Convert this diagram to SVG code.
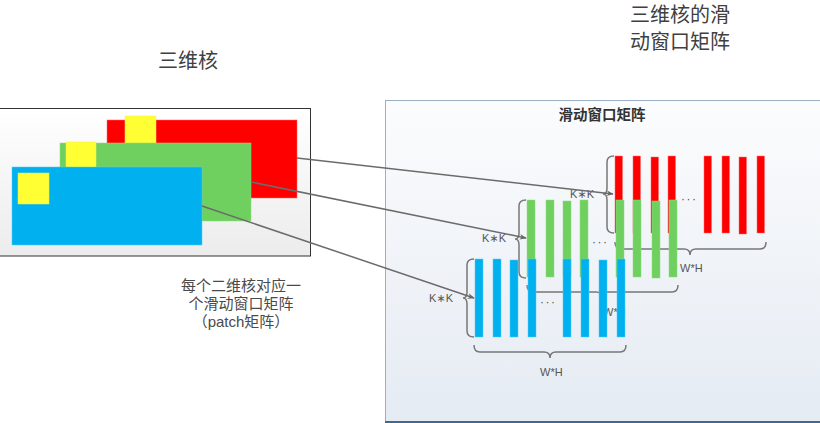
<svg xmlns="http://www.w3.org/2000/svg" width="820" height="423" viewBox="0 0 820 423">
<defs>
<linearGradient id="gl" x1="0" y1="0" x2="0" y2="1"><stop offset="0" stop-color="#ffffff"/><stop offset="1" stop-color="#ececec"/></linearGradient>
<linearGradient id="gr" x1="0" y1="0" x2="0" y2="1"><stop offset="0" stop-color="#fbfcfd"/><stop offset="1" stop-color="#e5ebf3"/></linearGradient>
<marker id="ar" viewBox="0 0 10 10" refX="9" refY="5" markerWidth="7" markerHeight="7" orient="auto" markerUnits="userSpaceOnUse"><path d="M0,1 L10,5 L0,9 L3,5 Z" fill="#666"/></marker>
<style>
.t{font-family:"Noto Sans CJK SC","Liberation Sans",sans-serif;fill:#404040}
.c{font-family:"Liberation Sans","Noto Sans CJK SC",sans-serif;fill:#4a4a4a;font-size:15px}
.s{font-family:"Liberation Sans","DejaVu Sans",sans-serif;font-size:11px;fill:#555}
.d{font-family:"Liberation Sans",sans-serif;font-size:12px;fill:#555;letter-spacing:1.5px}
.br{fill:none;stroke:#777;stroke-width:1.5}
.cn{fill:none;stroke:#6b6b6b;stroke-width:1.5}
.r{fill:#ff0000;stroke:#ff6b6b;stroke-width:0.5}
.g{fill:#6fd05f;stroke:#8fdc82;stroke-width:0.5}
.b{fill:#00b0ef;stroke:#55ccf5;stroke-width:0.5}
.y{fill:#ffff33;stroke:#f0f060;stroke-width:0.5}
</style>
</defs>
<text class="t" x="630" y="22" font-size="20">三维核的滑</text>
<text class="t" x="630" y="49" font-size="20">动窗口矩阵</text>
<text class="t" x="188" y="68" font-size="20" text-anchor="middle">三维核</text>
<g id="kernel">
<rect x="-1" y="108.5" width="311.5" height="147.5" fill="url(#gl)" stroke="#333" stroke-width="1"/>
<rect class="r" x="107" y="120" width="190" height="78"/>
<rect class="y" x="125" y="116" width="31" height="31"/>
<rect class="g" x="60" y="143" width="191" height="78"/>
<rect class="y" x="66" y="142" width="30" height="30"/>
<rect class="b" x="12" y="167" width="190" height="78"/>
<rect class="y" x="18" y="173" width="31" height="31"/>
</g>
<g id="caption">
<text class="c" x="241" y="291" text-anchor="middle">每个二维核对应一</text>
<text class="c" x="241" y="309" text-anchor="middle">个滑动窗口矩阵</text>
<text class="c" x="241" y="327" text-anchor="middle">（patch矩阵）</text>
</g>
<g id="panel">
<rect x="385.5" y="100.5" width="440" height="321" fill="url(#gr)" stroke="#9aaec6" stroke-width="1"/>
<line x1="385" y1="422" x2="820" y2="422" stroke="#3b6a98" stroke-width="2"/>
<text x="602" y="120" font-size="14.5" font-weight="bold" text-anchor="middle" style="font-family:'Noto Sans CJK SC',sans-serif;fill:#333">滑动窗口矩阵</text>
</g>
<g id="red-matrix">
<rect class="r" x="615" y="156" width="7.5" height="77"/>
<rect class="r" x="633" y="156" width="7.5" height="77"/>
<rect class="r" x="651" y="157" width="7.5" height="76"/>
<rect class="r" x="668" y="156" width="7.5" height="77"/>
<rect class="r" x="704" y="156" width="7.5" height="77"/>
<rect class="r" x="722" y="156" width="7.5" height="77"/>
<rect class="r" x="739" y="157" width="7.5" height="77"/>
<rect class="r" x="757" y="156" width="7.5" height="77"/>
<text class="d" x="681" y="203">···</text>
<path class="br" d="M614,156 Q607,156 607,162 L607,188 Q607,194 603,194 Q607,194 607,200 L607,227 Q607,233 614,233"/>
<path class="br" d="M615,242 Q615,249 621,249 L684,249 Q690,249 690,255 Q690,249 696,249 L760,249 Q766,249 766,242"/>
<text class="s" x="594" y="198" text-anchor="end">K∗K</text>
<text class="s" x="680" y="272">W*H</text>
</g>
<g id="green-matrix">
<rect class="g" x="527" y="200" width="8" height="77"/>
<rect class="g" x="546" y="200" width="8" height="77"/>
<rect class="g" x="563" y="201" width="8" height="76"/>
<rect class="g" x="580" y="200" width="8" height="77"/>
<rect class="g" x="616" y="200" width="8" height="77"/>
<rect class="g" x="633" y="200" width="8" height="77"/>
<rect class="g" x="652" y="201" width="8" height="77"/>
<rect class="g" x="669" y="200" width="8" height="77"/>
<text class="d" x="592" y="246">···</text>
<path class="br" d="M526,200 Q519,200 519,206 L519,233 Q519,239 515,239 Q519,239 519,245 L519,272 Q519,278 526,278"/>
<path class="br" d="M527,285 Q527,292 533,292 L596,292 Q602,292 602,298 Q602,292 608,292 L672,292 Q678,292 678,285"/>
<text class="s" x="506" y="242" text-anchor="end">K∗K</text>
<text class="s" x="603" y="316">W*H</text>
</g>
<g id="blue-matrix">
<rect class="b" x="475" y="259" width="8" height="78"/>
<rect class="b" x="493" y="259" width="8" height="78"/>
<rect class="b" x="510" y="260" width="8" height="77"/>
<rect class="b" x="528" y="259" width="8" height="78"/>
<rect class="b" x="563" y="259" width="8" height="78"/>
<rect class="b" x="581" y="259" width="8" height="78"/>
<rect class="b" x="599" y="260" width="8" height="77"/>
<rect class="b" x="617" y="259" width="8" height="78"/>
<text class="d" x="540" y="306">···</text>
<path class="br" d="M474,259 Q467,259 467,265 L467,292 Q467,298 463,298 Q467,298 467,304 L467,331 Q467,337 474,337"/>
<path class="br" d="M474,345 Q474,352 480,352 L544,352 Q550,352 550,358 Q550,352 556,352 L620,352 Q626,352 626,345"/>
<text class="s" x="453" y="302" text-anchor="end">K∗K</text>
<text class="s" x="540" y="376">W*H</text>
</g>
<g id="connectors">
<line class="cn" x1="297" y1="158" x2="613" y2="194" marker-end="url(#ar)"/>
<line class="cn" x1="251" y1="182" x2="526" y2="238" marker-end="url(#ar)"/>
<line class="cn" x1="202" y1="206" x2="474" y2="298" marker-end="url(#ar)"/>
</g>
</svg>
